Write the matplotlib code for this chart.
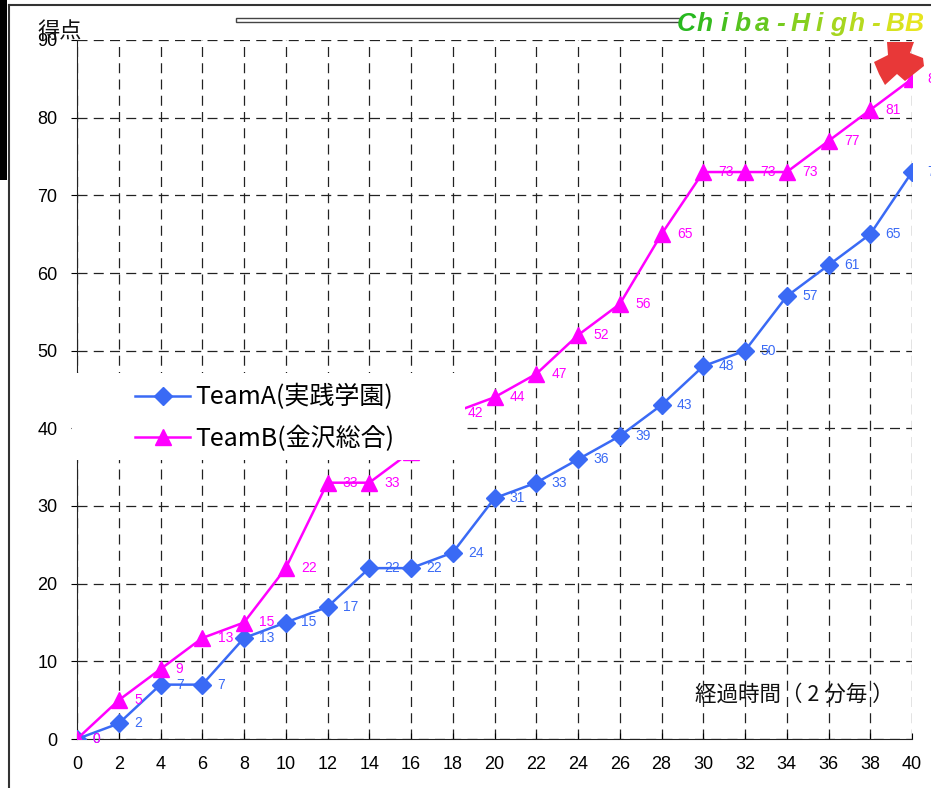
import matplotlib
matplotlib.use('Agg')
import matplotlib.pyplot as plt
from matplotlib.patches import Rectangle, Polygon

W, H = 931, 788

minutes = list(range(0, 41, 2))
team_a = [0, 2, 7, 7, 13, 15, 17, 22, 22, 24, 31, 33, 36, 39, 43, 48, 50, 57, 61, 65, 73]
team_b = [0, 5, 9, 13, 15, 22, 33, 33, 37, 42, 44, 47, 52, 56, 65, 73, 73, 73, 77, 81, 85]
label_a = 'TeamA(実践学園)'
label_b = 'TeamB(金沢総合)'
x_ticks = list(range(0, 41, 2))
y_ticks = list(range(0, 91, 10))

blue = '#3a6af5'
magenta = '#ff00ff'
cjk = ['Noto Sans CJK JP', 'DejaVu Sans']

plt.rcParams['font.family'] = ['Liberation Sans', 'DejaVu Sans']

fig = plt.figure(figsize=(W / 100, H / 100), dpi=100)


def fx(px):
    return px / W


def fy(py):
    return 1 - py / H


ax = fig.add_axes([fx(77), fy(739), fx(912) - fx(77), fy(40) - fy(739)])

ax.plot(minutes, team_a, color=blue, lw=1.8, marker='D', ms=9, zorder=3)
ax.plot(minutes, team_b, color=magenta, lw=1.8, marker='^', ms=11, zorder=3)

for x, v in zip(minutes, team_a):
    ax.annotate(str(v), (x, v), xytext=(11, 0), textcoords='offset points',
                va='center', ha='left', fontsize=10, color=blue, zorder=3,
                annotation_clip=False)
for x, v in zip(minutes, team_b):
    ax.annotate(str(v), (x, v), xytext=(11, 0), textcoords='offset points',
                va='center', ha='left', fontsize=10, color=magenta, zorder=3,
                annotation_clip=False)

ax.set_xlim(0, 40)
ax.set_ylim(0, 90)
ax.set_xticks(x_ticks)
ax.set_yticks(y_ticks)
ax.tick_params(axis='y', direction='out', length=4, pad=10, labelsize=13)
ax.tick_params(axis='x', direction='in', length=4, pad=12, labelsize=13)
ax.grid(True, color='#222222', lw=0.9, linestyle=(0, (8, 5)))
ax.set_axisbelow(True)
for s in ['top', 'right']:
    ax.spines[s].set_visible(False)
ax.spines['left'].set_color('#222222')
ax.spines['bottom'].set_color('#222222')

# white box behind the legend
ax.add_patch(Rectangle((fx(72), fy(460)), fx(465) - fx(72), fy(373) - fy(460),
                       transform=fig.transFigure, facecolor='white',
                       edgecolor='none', clip_on=False, zorder=5))

handles = ax.get_lines()
leg = ax.legend(handles, [label_a, label_b], loc='center left',
                bbox_to_anchor=(fx(135), fy(418)), bbox_transform=fig.transFigure,
                frameon=False, prop={'family': cjk, 'size': 18},
                handlelength=2.2, handletextpad=0.2, labelspacing=0.6,
                borderpad=0, borderaxespad=0)
leg.set_zorder(6)

fig.text(fx(894), fy(695), '経過時間（ 2 分毎 ）', ha='right', va='center',
         fontsize=15.5, family=cjk, color='#111111')
fig.text(fx(37), fy(31), '得点', ha='left', va='center', fontsize=16,
         family=cjk, color='#111111')

# page decorations
fig.add_artist(Rectangle((0, fy(180)), fx(7), fy(0) - fy(180), transform=fig.transFigure,
                         facecolor='black', edgecolor='none'))
fig.add_artist(plt.Line2D([fx(8.5), fx(8.5)], [0, fy(5)], transform=fig.transFigure,
                          color='#333333', lw=1.5))
fig.add_artist(plt.Line2D([fx(8.5), 1], [fy(5), fy(5)], transform=fig.transFigure,
                          color='#333333', lw=1.5))
fig.add_artist(Rectangle((fx(236), fy(22)), fx(680) - fx(236), fy(18) - fy(22),
                         transform=fig.transFigure, facecolor='white',
                         edgecolor='#444444', lw=1))

logo = 'Chiba-High-BB'
for i, ch in enumerate(logo):
    t = i / (len(logo) - 1)
    col = (0.15 + 0.75 * t, 0.72 + 0.18 * t, 0.12)
    fig.text(fx(686 + i * 19.0), fy(24), ch, ha='center', va='center',
             fontsize=19, fontweight='bold', fontstyle='italic', color=col)

arrow = [(874, 62), (888, 55), (887, 42), (914, 42), (910, 53), (923, 58),
         (924, 66), (905, 81), (897, 74), (885, 85), (879, 74)]
fig.add_artist(Polygon([(fx(a), fy(b)) for a, b in arrow], closed=True,
                       transform=fig.transFigure, facecolor='#e83838',
                       edgecolor='none', zorder=7))

fig.savefig('out.png', dpi=100)
